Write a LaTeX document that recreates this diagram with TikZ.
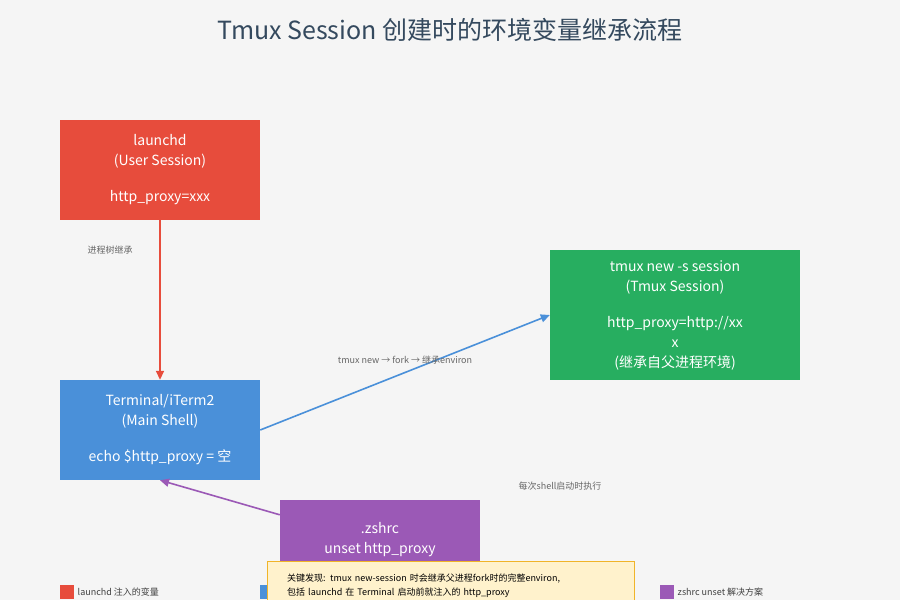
\documentclass[tikz,border=0pt]{standalone}
\usepackage{fontspec}
\setmainfont{Noto Sans CJK SC}
\usetikzlibrary{arrows.meta,positioning}
\definecolor{bg}{HTML}{F5F5F5}
\definecolor{cred}{HTML}{E74C3C}
\definecolor{cblue}{HTML}{4A90D9}
\definecolor{cgreen}{HTML}{27AE60}
\definecolor{cpurple}{HTML}{9B59B6}
\definecolor{notefill}{HTML}{FFF2CC}
\definecolor{noteline}{HTML}{F0B429}
\definecolor{ctitle}{HTML}{34495E}
\begin{document}
\begin{tikzpicture}[x=1pt,y=-1pt,
            box/.style = {minimum width=200pt, minimum height=100pt, align=center,
                          text=white, font=\fontsize{14}{20}\selectfont, inner sep=0pt},
            lbl/.style = {text=black!60, font=\fontsize{9}{11}\selectfont},
            key/.style = {minimum size=14pt, inner sep=0pt},
            flow/.style = {-{Triangle[length=9pt,width=8pt]}, line width=1.6pt}
            ]
            \fill[bg] (0,0) rectangle (900,600);
            \useasboundingbox (0,0) rectangle (900,600);
            \node[text=ctitle, font=\fontsize{25}{30}\selectfont] (title) at (450,30) {Tmux Session 创建时的环境变量继承流程};
            % process boxes
            \node[box, fill=cred] (launchd) at (160,170) {launchd\\(User Session)\\[16pt]http\_proxy=xxx};
            \node[box, fill=cblue] (term) at (160,430) {Terminal/iTerm2\\(Main Shell)\\[16pt]echo \$http\_proxy = 空};
            \node[box, fill=cgreen, minimum width=250pt, minimum height=130pt] (tmux) at (675,315)
                {tmux new -s session\\(Tmux Session)\\[16pt]http\_proxy=http://xx\\x\\(继承自父进程环境)};
            \node[box, fill=cpurple, minimum height=80pt] (zshrc) at (380,540) {.zshrc\\unset http\_proxy};
            % connectors
            \draw[flow, cred] (launchd.south) -- (term.north);
            \node[lbl] (l1) at (110,250) {进程树继承};
            \draw[flow, cblue] (term.east) -- (tmux.west);
            \node[lbl] (l2) at (405,360) {tmux new → fork → 继承environ};
            \draw[flow, cpurple] (zshrc.north west) ++(0,15) coordinate (zs) (zs) -- (term.south);
            \node[lbl] (l3) at (560,486) {每次shell启动时执行};
            % legend
            \node[key, fill=cred] (k1) at (67,592) {};
            \node[lbl, text=black!75, anchor=west] (k1t) at (k1.east) {launchd 注入的变量};
            \node[key, fill=cblue] (k2) at (267,592) {};
            \node[key, fill=cpurple] (k3) at (667,592) {};
            \node[lbl, text=black!75, anchor=west] (k3t) at (k3.east) {zshrc unset 解决方案};
            % note
            \node[draw=noteline, fill=notefill, anchor=north west, minimum width=367pt, minimum height=50pt,
                  align=left, inner xsep=20pt, inner ysep=5pt, text width=327pt,
                  font=\fontsize{9}{14}\selectfont] (note) at (267,561)
                {关键发现: tmux new-session 时会继承父进程fork时的完整environ,\\包括 launchd 在 Terminal 启动前就注入的 http\_proxy\\[20pt]};
        \end{tikzpicture}
\end{document}
